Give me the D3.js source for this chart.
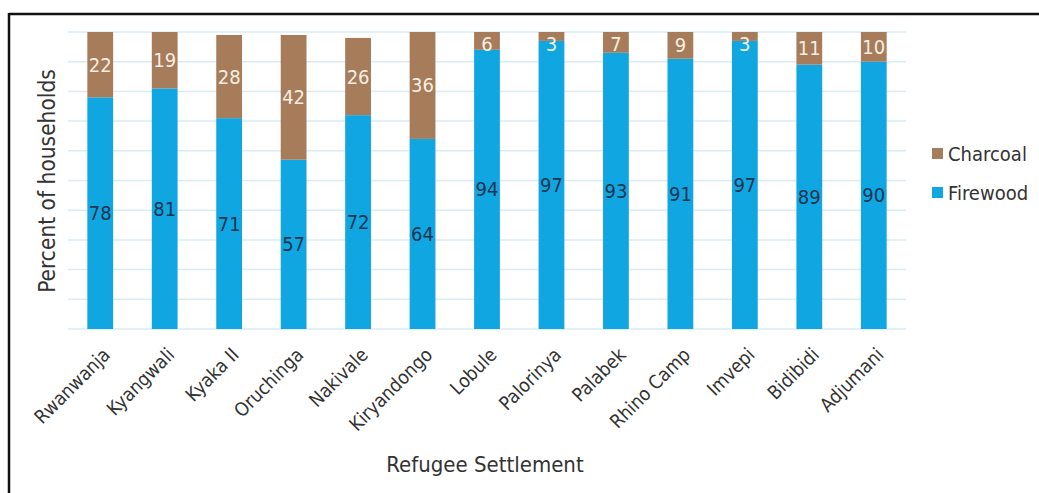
<!DOCTYPE html>
<html>
<head>
<meta charset="utf-8">
<script src="https://cdn.jsdelivr.net/npm/d3@7"></script>
<style>
  body { margin: 0; background: #fff; }
  text { font-family: "DejaVu Sans Condensed", "DejaVu Sans", sans-serif; }
</style>
</head>
<body>
<svg width="1039" height="493"></svg>
<script>
// data
var settlements = ["Rwanwanja", "Kyangwali", "Kyaka II", "Oruchinga", "Nakivale", "Kiryandongo",
  "Lobule", "Palorinya", "Palabek", "Rhino Camp", "Imvepi", "Bidibidi", "Adjumani"];
var firewood = [78, 81, 71, 57, 72, 64, 94, 97, 93, 91, 97, 89, 90];
var charcoal = [22, 19, 28, 42, 26, 36, 6, 3, 7, 9, 3, 11, 10];
var seriesNames = ["Firewood", "Charcoal"];
var yTicks = [0, 10, 20, 30, 40, 50, 60, 70, 80, 90, 100];

var colors = { Firewood: "#10a6e2", Charcoal: "#a67c5b" };
var labelColors = { Firewood: "#1b3550", Charcoal: "#f6eee2" };

var svg = d3.select("svg");

// frame
svg.append("line").attr("x1", 9).attr("x2", 1039).attr("y1", 14).attr("y2", 14)
  .attr("stroke", "#111").attr("stroke-width", 2.5);
svg.append("line").attr("x1", 9).attr("x2", 9).attr("y1", 13).attr("y2", 493)
  .attr("stroke", "#111").attr("stroke-width", 2.5);

var x = d3.scaleBand().domain(settlements).range([68, 906]).paddingInner(0.6).paddingOuter(0.3);
var y = d3.scaleLinear().domain([0, 100]).range([329, 32]);

// gridlines
svg.append("g").selectAll("line").data(yTicks).enter().append("line")
  .attr("x1", 68).attr("x2", 906)
  .attr("y1", d => y(d)).attr("y2", d => y(d))
  .attr("stroke", "#d9ecf5").attr("stroke-width", 1.5);

var rows = settlements.map((s, i) => ({ name: s, Firewood: firewood[i], Charcoal: charcoal[i] }));
var stack = d3.stack().keys(seriesNames)(rows);

var layers = svg.append("g").selectAll("g").data(stack).enter().append("g")
  .attr("fill", d => colors[d.key]);

layers.selectAll("rect").data(d => d).enter().append("rect")
  .attr("x", d => x(d.data.name))
  .attr("width", x.bandwidth())
  .attr("y", d => y(d[1]))
  .attr("height", d => y(d[0]) - y(d[1]));

// value labels
stack.forEach(function(layer) {
  svg.append("g").selectAll("text").data(layer).enter().append("text")
    .attr("x", d => x(d.data.name) + x.bandwidth() / 2)
    .attr("y", d => Math.max((y(d[0]) + y(d[1])) / 2, y(100) + 12))
    .attr("text-anchor", "middle")
    .attr("dominant-baseline", "central")
    .attr("font-size", 20)
    .attr("fill", labelColors[layer.key])
    .text(d => d[1] - d[0]);
});

// x axis labels
var xAxis = svg.append("g").attr("transform", "translate(0,329)")
  .call(d3.axisBottom(x).tickSize(0).tickPadding(0));
xAxis.select(".domain").remove();
xAxis.selectAll("text")
  .attr("font-size", 19)
  .attr("fill", "#333")
  .attr("text-anchor", "end")
  .attr("dy", null)
  .attr("transform", "translate(11,27) rotate(-45)");

// axis titles
svg.append("text")
  .attr("transform", "translate(55,181) rotate(-90)")
  .attr("text-anchor", "middle")
  .attr("font-size", 22.5)
  .attr("fill", "#333")
  .text("Percent of households");

svg.append("text")
  .attr("x", 485).attr("y", 472)
  .attr("text-anchor", "middle")
  .attr("font-size", 22)
  .attr("fill", "#333")
  .text("Refugee Settlement");

// legend
var legend = svg.append("g").selectAll("g").data(["Charcoal", "Firewood"]).enter().append("g")
  .attr("transform", (d, i) => "translate(932," + (148 + i * 39) + ")");
legend.append("rect").attr("width", 11).attr("height", 11).attr("fill", d => colors[d]);
legend.append("text").attr("x", 16).attr("y", 6)
  .attr("dominant-baseline", "central")
  .attr("font-size", 20).attr("fill", "#333")
  .text(d => d);
</script>
</body>
</html>
